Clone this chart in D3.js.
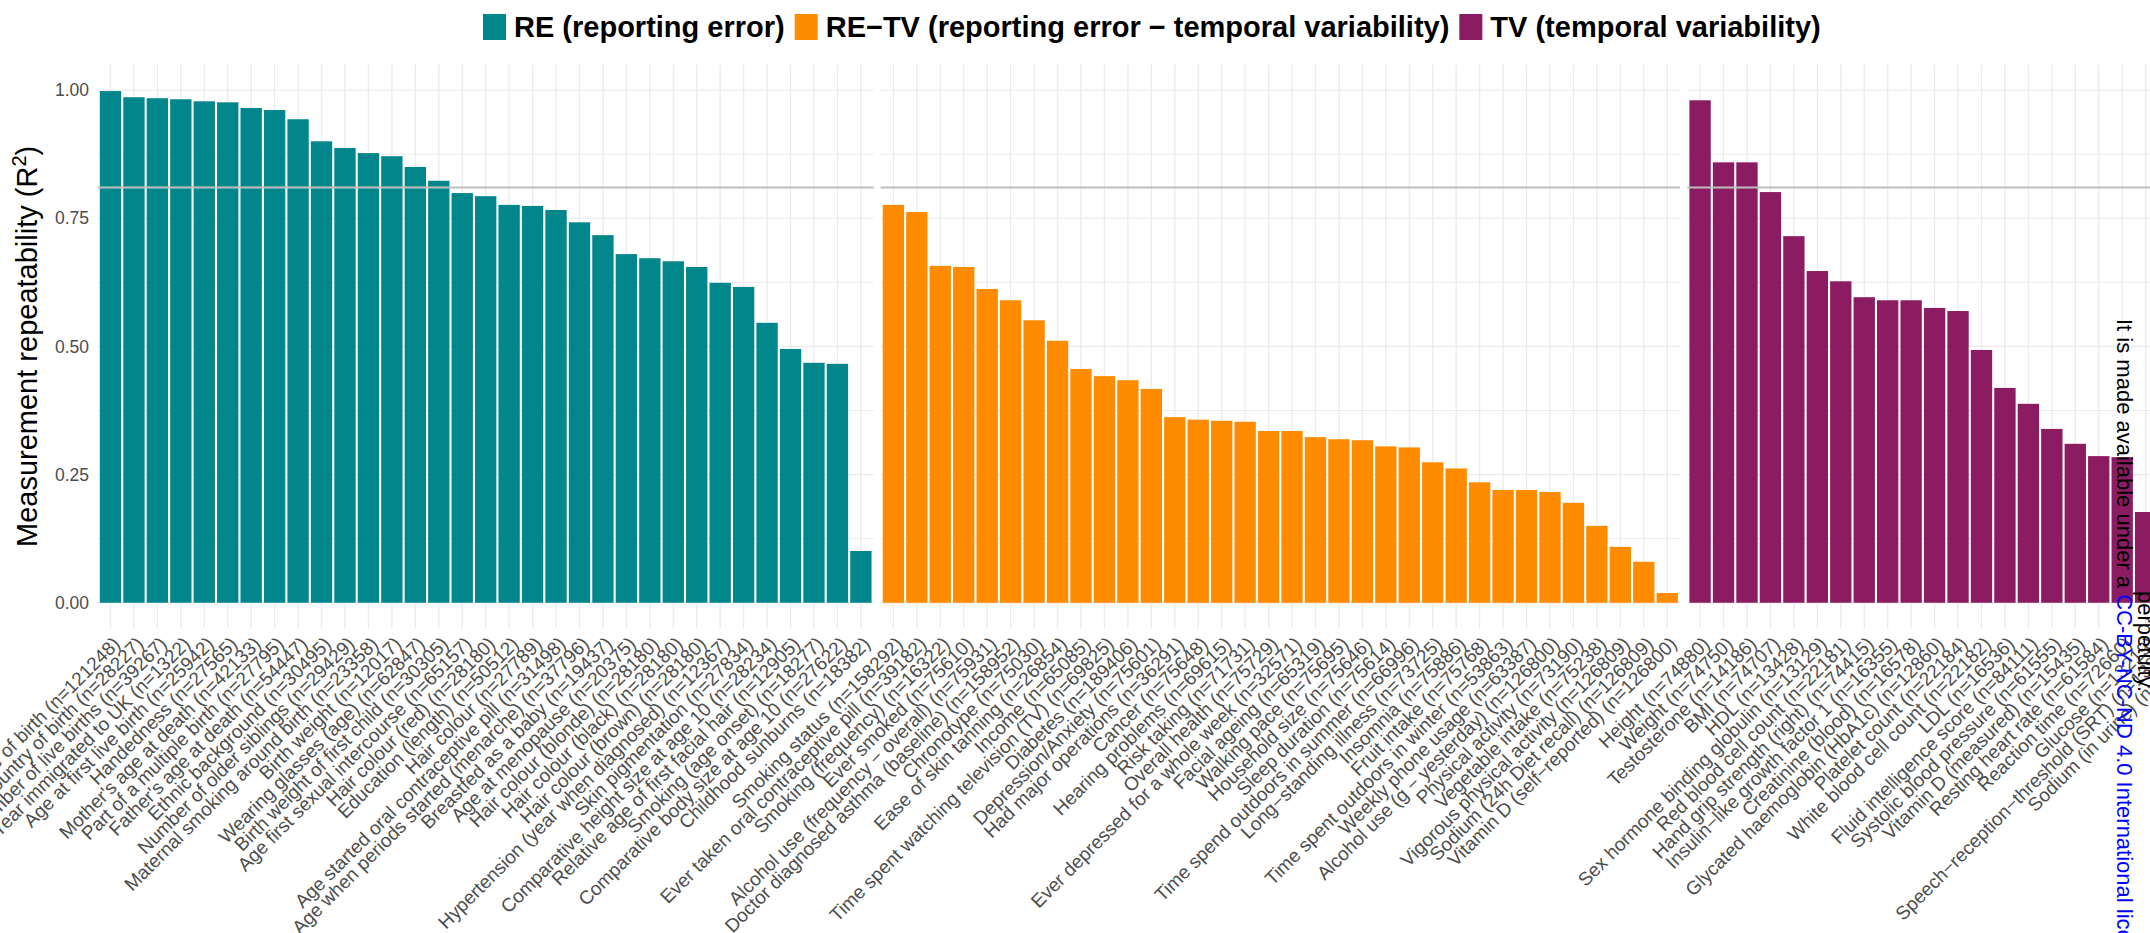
<!DOCTYPE html>
<html>
<head>
<meta charset="utf-8">
<script src="https://cdn.jsdelivr.net/npm/d3@7"></script>
<style>
  html, body { margin: 0; padding: 0; background: #fff; overflow: hidden; }
  svg { display: block; font-family: "Liberation Sans", Arial, Helvetica, sans-serif; }
</style>
</head>
<body>
<svg id="chart" width="2150" height="933"></svg>
<script>
// ---------------- DATA ----------------
const reLabels = [
  "Place of birth (n=121248)", "Country of birth (n=28227)", "Number of live births (n=39267)",
  "Year immigrated to UK (n=1322)", "Age at first live birth (n=25942)", "Handedness (n=27565)",
  "Mother's age at death (n=42133)", "Part of a multiple birth (n=27795)", "Father's age at death (n=54447)",
  "Ethnic background (n=30495)", "Number of older siblings (n=29429)", "Maternal smoking around birth (n=23358)",
  "Birth weight (n=12017)", "Wearing glasses (age) (n=62847)", "Birth weight of first child (n=30305)",
  "Age first sexual intercourse (n=65157)", "Hair colour (red) (n=28180)", "Education (length) (n=50512)",
  "Hair colour (n=27789)", "Age started oral contraceptive pill (n=31498)", "Age when periods started (menarche) (n=37796)",
  "Breastfed as a baby (n=19437)", "Age at menopause (n=20375)", "Hair colour (blonde) (n=28180)",
  "Hair colour (black) (n=28180)", "Hair colour (brown) (n=28180)", "Hypertension (year when diagnosed) (n=12367)",
  "Skin pigmentation (n=27834)", "Comparative height size at age 10 (n=28234)", "Relative age of first facial hair (n=12905)",
  "Smoking (age onset) (n=18277)", "Comparative body size at age 10 (n=27622)", "Childhood sunburns (n=18382)"
];
const reValues = [
  0.998, 0.986, 0.984, 0.982, 0.978, 0.976, 0.965, 0.961, 0.943, 0.900, 0.887, 0.877,
  0.871, 0.850, 0.823, 0.799, 0.793, 0.776, 0.774, 0.766, 0.742, 0.717, 0.680, 0.672,
  0.666, 0.655, 0.624, 0.616, 0.546, 0.495, 0.468, 0.466, 0.101
];

const rtLabels = [
  "Smoking status (n=158292)", "Ever taken oral contraceptive pill (n=39182)", "Smoking (frequency) (n=16322)",
  "Ever smoked (n=75610)", "Alcohol use (frequency \u2212 overall) (n=75931)", "Doctor diagnosed asthma (baseline) (n=158952)",
  "Chronotype (n=75030)", "Ease of skin tanning (n=26854)", "Income (n=65085)",
  "Time spent watching television (TV) (n=69825)", "Diabetes (n=189406)", "Depression/Anxiety (n=75601)",
  "Had major operations (n=36291)", "Cancer (n=75648)", "Hearing problems (n=69615)",
  "Risk taking (n=71731)", "Overall health (n=75729)", "Ever depressed for a whole week (n=32571)",
  "Facial ageing (n=65319)", "Walking pace (n=75695)", "Household size (n=75646)",
  "Sleep duration (n=75614)", "Time spend outdoors in summer (n=66996)", "Long\u2212standing illness (n=73725)",
  "Insomnia (n=75886)", "Fruit intake (n=75768)", "Time spent outdoors in winter (n=53863)",
  "Weekly phone usage (n=63387)", "Alcohol use (g \u2212 yesterday) (n=126800)", "Physical activity (n=73190)",
  "Vegetable intake (n=75238)", "Vigorous physical activity (n=126809)", "Sodium (24h Diet recall) (n=126809)",
  "Vitamin D (self\u2212reported) (n=126800)"
];
const rtValues = [
  0.776, 0.762, 0.657, 0.655, 0.612, 0.590, 0.551, 0.511, 0.456, 0.442, 0.434, 0.417,
  0.362, 0.357, 0.355, 0.353, 0.335, 0.335, 0.323, 0.319, 0.317, 0.305, 0.303, 0.274,
  0.262, 0.235, 0.220, 0.220, 0.216, 0.195, 0.150, 0.109, 0.080, 0.019
];

const tvLabels = [
  "Height (n=74880)", "Weight (n=74750)", "Testosterone (n=14186)", "BMI (n=74707)", "HDL (n=13428)",
  "Sex hormone binding globulin (n=13129)", "Red blood cell count (n=22181)", "Hand grip strength (right) (n=74415)",
  "Insulin\u2212like growth factor 1 (n=16355)", "Creatinine (blood) (n=16578)", "Glycated haemoglobin (HbA1c) (n=12860)",
  "Platelet count (n=22184)", "White blood cell count (n=22182)", "LDL (n=16536)", "Fluid intelligence score (n=84111)",
  "Systolic blood pressure (n=61555)", "Vitamin D (measured) (n=15435)", "Resting heart rate (n=61584)",
  "Reaction time (n=72660)", "Glucose (n=13219)", "Speech\u2212reception\u2212threshold (SRT) (n=13892)",
  "Sodium (in urine) (n=13147)"
];
const tvValues = [
  0.980, 0.859, 0.859, 0.801, 0.715, 0.647, 0.627, 0.596, 0.590, 0.590, 0.575, 0.569,
  0.493, 0.419, 0.388, 0.339, 0.310, 0.286, 0.284, 0.177, 0.15, 0.12
];

const groupNames = ["RE (reporting error)", "RE\u2212TV (reporting error \u2212 temporal variability)", "TV (temporal variability)"];
const groupColors = ["#00868B", "#FF8C00", "#8B1C62"];
const yTicks = [0, 0.25, 0.5, 0.75, 1];
const yMinorTicks = [0.125, 0.375, 0.625, 0.875];
const referenceR2 = 0.81;
const yTitle = "Measurement repeatability (R";

// ---------------- LAYOUT ----------------
const svg = d3.select("#chart");
const panelTop = 64.4, panelBottom = 628.4;
const y = d3.scaleLinear().domain([-0.05, 1.05]).range([panelBottom, panelTop]);
const step = 23.45, pad = 0.09;
const panelStarts = [97.7, 880.6, 1687.3];
const series = [
  { labels: reLabels, values: reValues },
  { labels: rtLabels, values: rtValues },
  { labels: tvLabels, values: tvValues }
];

const gridCol = "#EBEBEB";

series.forEach((s, pi) => {
  const x0 = panelStarts[pi];
  const x1 = x0 + step * (s.labels.length - pad + 2 * pad);
  const x = d3.scaleBand().domain(s.labels).range([x0, x1]).paddingInner(pad).paddingOuter(pad);
  const g = svg.append("g");

  g.selectAll(".hmin").data(yMinorTicks).join("line")
    .attr("x1", x0).attr("x2", x1)
    .attr("y1", d => y(d)).attr("y2", d => y(d))
    .attr("stroke", gridCol).attr("stroke-width", 1);
  g.selectAll(".hmaj").data(yTicks).join("line")
    .attr("x1", x0).attr("x2", x1)
    .attr("y1", d => y(d)).attr("y2", d => y(d))
    .attr("stroke", gridCol).attr("stroke-width", 1.3);
  g.selectAll(".vg").data(s.labels).join("line")
    .attr("x1", d => x(d) + x.bandwidth() / 2).attr("x2", d => x(d) + x.bandwidth() / 2)
    .attr("y1", panelTop).attr("y2", panelBottom)
    .attr("stroke", gridCol).attr("stroke-width", 1.3);

  g.selectAll(".bar").data(s.labels.map((l, i) => ({ l, v: s.values[i] }))).join("rect")
    .attr("x", d => x(d.l)).attr("width", x.bandwidth())
    .attr("y", d => y(d.v)).attr("height", d => y(0) - y(d.v))
    .attr("fill", groupColors[pi]);

  g.append("line")
    .attr("x1", x0).attr("x2", x1)
    .attr("y1", y(referenceR2)).attr("y2", y(referenceR2))
    .attr("stroke", "#BEBEBE").attr("stroke-width", 2);

  g.selectAll(".xl").data(s.labels).join("text")
    .attr("transform", d => `translate(${x(d) + x.bandwidth() / 2 + 1},${panelBottom + 7}) rotate(-45)`)
    .attr("text-anchor", "end")
    .attr("dy", "0.72em")
    .attr("font-size", 19)
    .attr("fill", "#4D4D4D")
    .text(d => d);

  if (pi === 0) {
    g.selectAll(".yl").data(yTicks).join("text")
      .attr("x", 89).attr("y", d => y(d))
      .attr("dy", "0.35em")
      .attr("text-anchor", "end")
      .attr("font-size", 17.5)
      .attr("fill", "#4D4D4D")
      .text(d => d3.format(".2f")(d));
  }
});

// y-axis title
const yt = svg.append("text")
  .attr("transform", `translate(37,${(panelTop + panelBottom) / 2}) rotate(-90)`)
  .attr("text-anchor", "middle")
  .attr("font-size", 29)
  .attr("fill", "#000");
yt.append("tspan").text(yTitle);
yt.append("tspan").attr("font-size", 20).attr("dy", "-0.55em").text("2");
yt.append("tspan").attr("dy", "0.38em").text(")");

// legend
let lx = 483;
const legG = svg.append("g");
groupNames.forEach((name, i) => {
  legG.append("rect").attr("x", lx).attr("y", 14).attr("width", 23).attr("height", 26).attr("fill", groupColors[i]);
  const t = legG.append("text").attr("x", lx + 31).attr("y", 27).attr("dy", "0.36em")
    .attr("font-size", 29).attr("font-weight", "bold").attr("fill", "#000").text(name);
  lx = lx + 31 + t.node().getComputedTextLength() + 10;
});

// preprint watermark (rotated)
const wm = svg.append("text")
  .attr("transform", "translate(2117,319) rotate(90)")
  .attr("font-size", 22).attr("fill", "#000");
wm.append("tspan").text("It is made available under a ");
wm.append("tspan").attr("fill", "#0000FF").text("CC-BY-NC-ND 4.0 International license");
svg.append("text")
  .attr("transform", "translate(2138,591) rotate(90)")
  .attr("font-size", 22).attr("fill", "#000")
  .text("perpetuity.");
</script>
</body>
</html>
